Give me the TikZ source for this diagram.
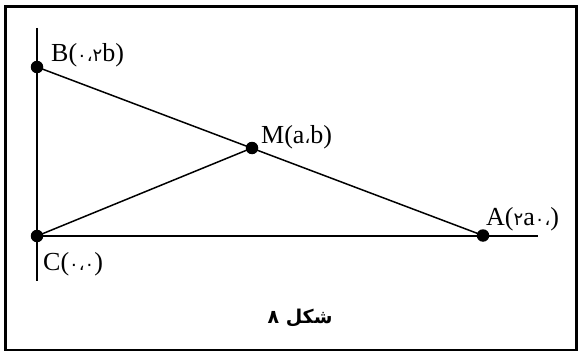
\documentclass[tikz,border=0pt]{standalone}
\usepackage{fontspec}
\setmainfont{Liberation Serif}
\newfontfamily\arabicfont[Script=Arabic]{DejaVu Sans}
\newcommand{\ad}[1]{{\arabicfont\fontsize{18}{20}\selectfont #1}}
\TeXXeTstate=1
\begin{document}
\begin{tikzpicture}[x=1pt,y=-1pt,
  ln/.style={line width=1.5pt},
  pt/.style={circle,fill=black,inner sep=0pt,minimum size=12.5pt},
  lbl/.style={inner sep=0pt,anchor=base west,font=\fontsize{26}{28}\selectfont}]
\useasboundingbox (0,0) rectangle (579,353);
\draw[line width=2.5pt] (5.5,6.5) rectangle (576.5,350);
\coordinate (vtop) at (37,28);
\coordinate (vbot) at (37,281);
\coordinate (hend) at (538,236);
\node[pt] (B) at (37,67) {};
\node[pt] (C) at (37,236) {};
\node[pt] (M) at (252,148) {};
\node[pt] (A) at (483,235.5) {};
\draw[ln] (vtop) -- (vbot);
\draw[ln] (C.center) -- (hend);
\draw[ln] (B.center) -- (A.center);
\draw[ln] (C.center) -- (M.center);
\node[lbl] (lB) at (51,62) {B(\ad{۰،۲}b)};
\node[lbl] (lM) at (261,143) {M(a\ad{،}b)};
\node[lbl] (lA) at (486,225) {A(\ad{۲}a\ad{،۰})};
\node[lbl] (lC) at (43,270) {C(\ad{۰،۰})};
\node[inner sep=0pt] (cap) at (300,318) {\arabicfont\fontsize{19}{21}\selectfont\bfseries\beginR شکل ۸\endR};
\end{tikzpicture}
\end{document}
